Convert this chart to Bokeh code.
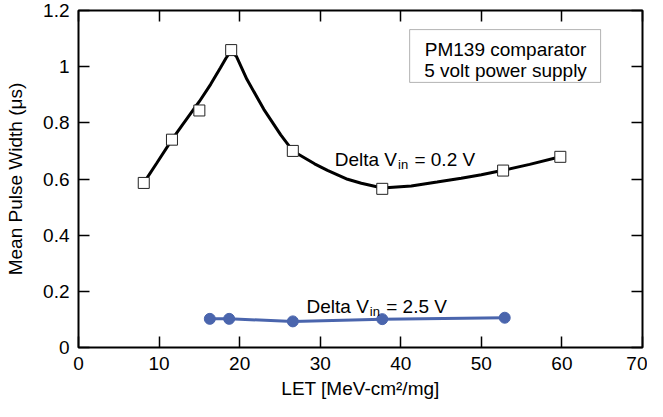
from bokeh.plotting import figure
from bokeh.models import LinearAxis, FixedTicker, Label, BoxAnnotation, Range1d, CustomJSTickFormatter
from bokeh.embed import file_html
from bokeh.resources import INLINE

# Delta Vin = 0.2 V : measured points (squares)
let_02 = [8.1, 11.6, 15.0, 18.95, 26.6, 37.7, 52.7, 59.8]
pw_02 = [0.586, 0.740, 0.844, 1.059, 0.700, 0.565, 0.630, 0.679]

# smooth fitted curve through the 0.2 V data
curve_let = [8.1, 9.7, 11.6, 12.9, 15.0, 16.4, 17.6, 18.3, 18.9, 19.6, 20.9, 23.0,
             25.1, 26.6, 29.3, 30.9, 33.4, 35.1, 37.7, 41.3, 44.5, 47.5, 50.0,
             52.7, 56.0, 59.8]
curve_pw = [0.586, 0.656, 0.740, 0.793, 0.876, 0.937, 0.995, 1.030, 1.055, 1.037,
            0.955, 0.848, 0.757, 0.700, 0.654, 0.631, 0.599, 0.585, 0.568, 0.575,
            0.589, 0.603, 0.615, 0.631, 0.652, 0.679]

# Delta Vin = 2.5 V (circles)
let_25 = [16.3, 18.7, 26.6, 37.7, 52.9]
pw_25 = [0.102, 0.102, 0.093, 0.101, 0.106]

x_ticks = [0, 10, 20, 30, 40, 50, 60, 70]
y_ticks = [0, 0.2, 0.4, 0.6, 0.8, 1, 1.2]

FONT = "Liberation Sans"
FS = "19px"

p = figure(width=647, height=401, output_backend="svg", toolbar_location=None,
           x_range=Range1d(0, 70), y_range=Range1d(0, 1.2),
           min_border_left=78, min_border_right=5, min_border_top=10, min_border_bottom=0)
p.xgrid.visible = False
p.ygrid.visible = False
p.outline_line_color = "black"
p.outline_line_width = 2
p.background_fill_color = "white"
p.border_fill_color = "white"

fmt = CustomJSTickFormatter(code="return String(tick);")
blank = CustomJSTickFormatter(code="return '';")

for ax in (p.xaxis[0], p.yaxis[0]):
    ax.axis_line_color = None
    ax.major_tick_in = 11
    ax.major_tick_out = 0
    ax.major_tick_line_width = 1.5
    ax.minor_tick_line_color = None
    ax.major_label_text_font = FONT
    ax.major_label_text_font_size = FS
    ax.major_label_text_color = "black"
    ax.major_label_standoff = 9
    ax.axis_label_text_font = FONT
    ax.axis_label_text_font_size = FS
    ax.axis_label_text_font_style = "normal"
    ax.axis_label_text_color = "black"
    ax.formatter = fmt

p.xaxis[0].ticker = FixedTicker(ticks=x_ticks)
p.yaxis[0].ticker = FixedTicker(ticks=y_ticks)
p.xaxis[0].axis_label = "LET [MeV-cm²/mg]"
p.yaxis[0].axis_label = "Mean Pulse Width (μs)"
p.xaxis[0].axis_label_standoff = 5
p.yaxis[0].axis_label_standoff = 14

for loc, ticks in (("right", y_ticks), ("above", x_ticks)):
    ax = LinearAxis(ticker=FixedTicker(ticks=ticks), axis_line_color=None,
                    major_tick_in=11, major_tick_out=0, major_tick_line_width=1.5,
                    minor_tick_line_color=None, major_label_standoff=0,
                    formatter=blank)
    p.add_layout(ax, loc)

# curves
p.line(curve_let, curve_pw, line_color="black", line_width=3)
p.scatter(let_02, pw_02, marker="square", size=11, fill_color="white",
          line_color="#222222", line_width=1)

BLUE = "#4a65ad"
p.line(let_25, pw_25, line_color=BLUE, line_width=3)
p.scatter(let_25, pw_25, marker="circle", size=11, fill_color=BLUE, line_color=BLUE)

# legend box
p.add_layout(BoxAnnotation(left=41.1, right=64.8, bottom=0.944, top=1.132,
                           fill_color="white", fill_alpha=1.0,
                           line_color="black", line_width=1))
for yy, txt in ((1.060, "PM139 comparator"), (0.985, "5 volt power supply")):
    p.add_layout(Label(x=53.0, y=yy, text=txt, text_align="center",
                       text_baseline="alphabetic", text_font=FONT,
                       text_font_size=FS, text_color="black"))

def delta_label(x, y, val):
    w1 = 3.279 * 19
    w2 = 0.778 * 13
    sp = 0.278 * 19
    common = dict(x=x, y=y, text_align="left", text_baseline="alphabetic",
                  text_font=FONT, text_color="black")
    p.add_layout(Label(text="Delta V", text_font_size=FS, **common))
    p.add_layout(Label(text="in", x_offset=w1 + 1, y_offset=-5,
                       text_font_size="13px", **common))
    p.add_layout(Label(text="= " + val + " V", x_offset=w1 + w2 + 2 + sp,
                       text_font_size=FS, **common))

delta_label(31.8, 0.671, "0.2")
delta_label(28.3, 0.147, "2.5")

open("out.html", "w").write(file_html(p, INLINE))
